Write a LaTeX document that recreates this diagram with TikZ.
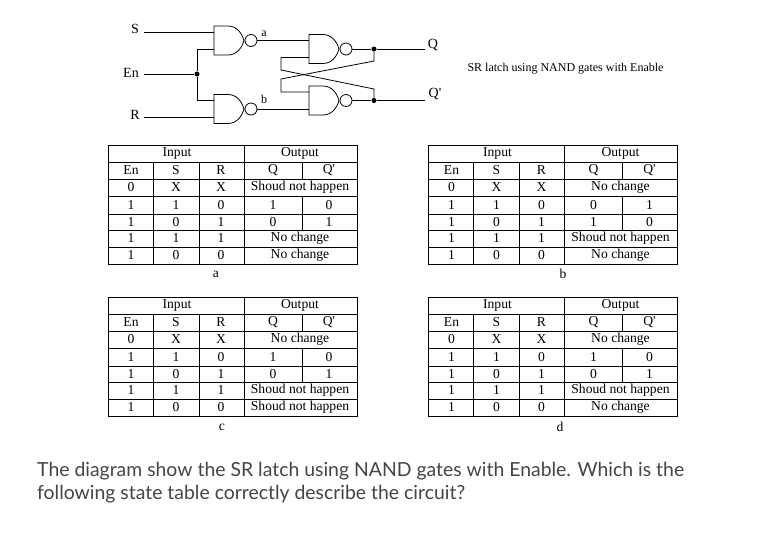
\documentclass[tikz,border=0pt]{standalone}
\usepackage{fontspec}
\setmainfont{Liberation Serif}
\newfontfamily\questionfont{Lato}
\usetikzlibrary{positioning}
\definecolor{questiongray}{HTML}{454545}
\tikzset{
  wire/.style={line width=0.8pt},
  junction/.style={circle,fill=black,inner sep=0pt,minimum size=5pt},
  grid line/.style={line width=0.8pt},
  cell/.style={font=\fontsize{13.6}{15}\selectfont,inner sep=0pt},
  pin/.style={font=\fontsize{14}{16}\selectfont,inner sep=0pt},
  small pin/.style={font=\fontsize{12}{14}\selectfont,inner sep=0pt},
  nandgate/.pic={
    \draw[wire] (14,-14.5) -- (0,-14.5) -- (0,14.5) -- (14,14.5)
      .. controls (23,14.5) and (28,7) .. (30,0)
      .. controls (28,-7) and (23,-14.5) .. (14,-14.5);
    \draw[wire] (37,0) circle (6);
    \coordinate (-in1) at (0,-8.5);
    \coordinate (-in2) at (0,8.5);
    \coordinate (-out) at (43,0);
  }
}
% x y, first row, Q Q' twice, last two rows
\newcommand{\statetable}[9]{
  \begin{scope}[shift={(#1,#2)}]
    \draw[grid line] (0,0) rectangle (249,119);
    \foreach \r in {17,34,51,69,85,102} \draw[grid line] (0,\r) -- (249,\r);
    \foreach \c in {45,91} \draw[grid line] (\c,17) -- (\c,119);
    \draw[grid line] (136,0) -- (136,119);
    \draw[grid line] (194,17) -- (194,34);
    \draw[grid line] (194,51) -- (194,85);
    \node[cell] at (69,8) {Input};
    \node[cell] at (192,8) {Output};
    \node[cell] at (23,25.5) {En};
    \node[cell] at (68,25.5) {S};
    \node[cell] at (113,25.5) {R};
    \node[cell] at (165,25.5) {Q};
    \node[cell] at (221,25.5) {Q\textquotesingle};
    \foreach \y/\en/\s/\rr in {42.5/0/X/X,60/1/1/0,77/1/0/1,93.5/1/1/1,110.5/1/0/0} {
      \node[cell] at (23,\y) {\en};
      \node[cell] at (68,\y) {\s};
      \node[cell] at (113,\y) {\rr};
    }
    \node[cell] at (192,42.5) {#3};
    \node[cell] at (165,60) {#4};
    \node[cell] at (221,60) {#5};
    \node[cell] at (165,77) {#6};
    \node[cell] at (221,77) {#7};
    \node[cell] at (192,93.5) {#8};
    \node[cell] at (192,110.5) {#9};
  \end{scope}
}
\begin{document}
\begin{tikzpicture}[x=1pt,y=-1pt]
  \useasboundingbox (0,0) rectangle (770,539);
  \fill[white] (0,0) rectangle (770,539);

  \pic (gatea) at (214,40.5) {nandgate};
  \pic (gateb) at (214,109) {nandgate};
  \pic (gateq) at (309,49) {nandgate};
  \pic (gateqb) at (309,100.5) {nandgate};

  \node[pin] (S) at (135,29) {S};
  \node[pin] (En) at (131,73) {En};
  \node[pin] (R) at (135,115) {R};
  \node[pin] (Q) at (433,45) {Q};
  \node[pin] (Qb) at (435,94) {Q\textquotesingle};
  \node[small pin] (la) at (264,34) {a};
  \node[small pin] (lb) at (264,99) {b};

  \node[junction] (jen) at (197,74) {};
  \node[junction] (jq) at (374,49) {};
  \node[junction] (jqb) at (374,100.5) {};
  \coordinate (sw) at (144,32);
  \coordinate (enw) at (144,74);
  \coordinate (rw) at (144,117.5);
  \coordinate (qw) at (425,49);
  \coordinate (qbw) at (425,100.5);

  \draw[wire] (sw) -- (gatea-in1);
  \draw[wire] (rw) -- (gateb-in2);
  \draw[wire] (enw) -- (jen);
  \draw[wire] (jen) |- (gatea-in2);
  \draw[wire] (jen) |- (gateb-in1);
  \draw[wire] (gatea-out) -- (gateq-in1);
  \draw[wire] (gateb-out) -- (gateqb-in2);
  \draw[wire] (gateq-out) -- (jq) -- (qw);
  \draw[wire] (gateqb-out) -- (jqb) -- (qbw);
  % cross coupling
  \draw[wire] (jq) -- (374,61) -- (281,79) -- (281,92) -- (gateqb-in1);
  \draw[wire] (jqb) -- (374,89) -- (281,70) -- (281,57.5) -- (gateq-in2);

  \node[cell,font=\fontsize{12}{14}\selectfont] (caption) at (565.5,68.5) {SR latch using NAND gates with Enable};

  \statetable{108}{145}{Shoud not happen}{1}{0}{0}{1}{No change}{No change}
  \statetable{428.5}{145}{No change}{0}{1}{1}{0}{Shoud not happen}{No change}
  \statetable{108}{297}{No change}{1}{0}{0}{1}{Shoud not happen}{Shoud not happen}
  \statetable{428.5}{297}{No change}{1}{0}{0}{1}{Shoud not happen}{No change}

  \node[cell] (ta) at (216,274) {a};
  \node[cell] (tb) at (563,274) {b};
  \node[cell] (tc) at (222,427) {c};
  \node[cell] (td) at (560,427) {d};

  \node[anchor=north west,inner sep=0pt,align=left,text=questiongray,
    font=\questionfont\fontsize{19.4}{23.5}\selectfont] (question) at (37,461.5)
    {The diagram show the SR latch using NAND gates with Enable. Which is the\\following state table correctly describe the circuit?};
\end{tikzpicture}
\end{document}
